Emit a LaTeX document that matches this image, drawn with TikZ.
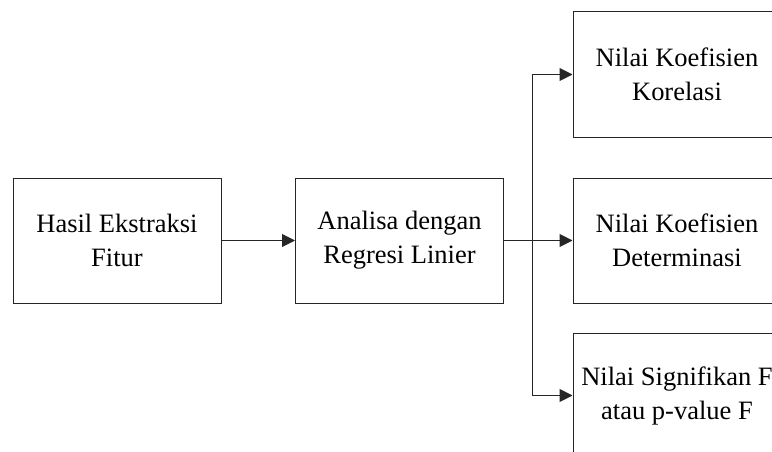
\documentclass[tikz,border=0pt]{standalone}
\usepackage{fontspec}
\setmainfont{Liberation Serif}
\usetikzlibrary{arrows.meta}
\begin{document}
\begin{tikzpicture}[x=1pt,y=-1pt,
  boxnode/.style={draw=black!85, line width=1pt, minimum width=208pt, minimum height=125pt,
    inner sep=0pt, align=center, font=\fontsize{26.5}{34}\selectfont},
  conn/.style={draw=black!85, line width=1pt, -{Triangle[length=13pt,width=13pt]}}]
\useasboundingbox (0,0) rectangle (772,452);
\clip (0,0) rectangle (772,452);
\node[boxnode] (hasil) at (117,240.5) {Hasil Ekstraksi\\Fitur};
\node[boxnode] (analisa) at (399.5,240.5) {Analisa dengan\\Regresi Linier};
\node[boxnode] (korelasi) at (677,74.5) {Nilai Koefisien\\Korelasi};
\node[boxnode] (determinasi) at (677,240.5) {Nilai Koefisien\\Determinasi};
\node[boxnode] (signifikan) at (677,395.5) {Nilai Signifikan F\\atau p-value F};
\coordinate (split) at (532,241);
\draw[conn] (hasil.east) -- (analisa.west);
\draw[conn] (analisa.east) -- (determinasi.west);
\draw[conn] (split) |- (korelasi.west);
\draw[conn] (split) |- (signifikan.west);
\end{tikzpicture}
\end{document}
